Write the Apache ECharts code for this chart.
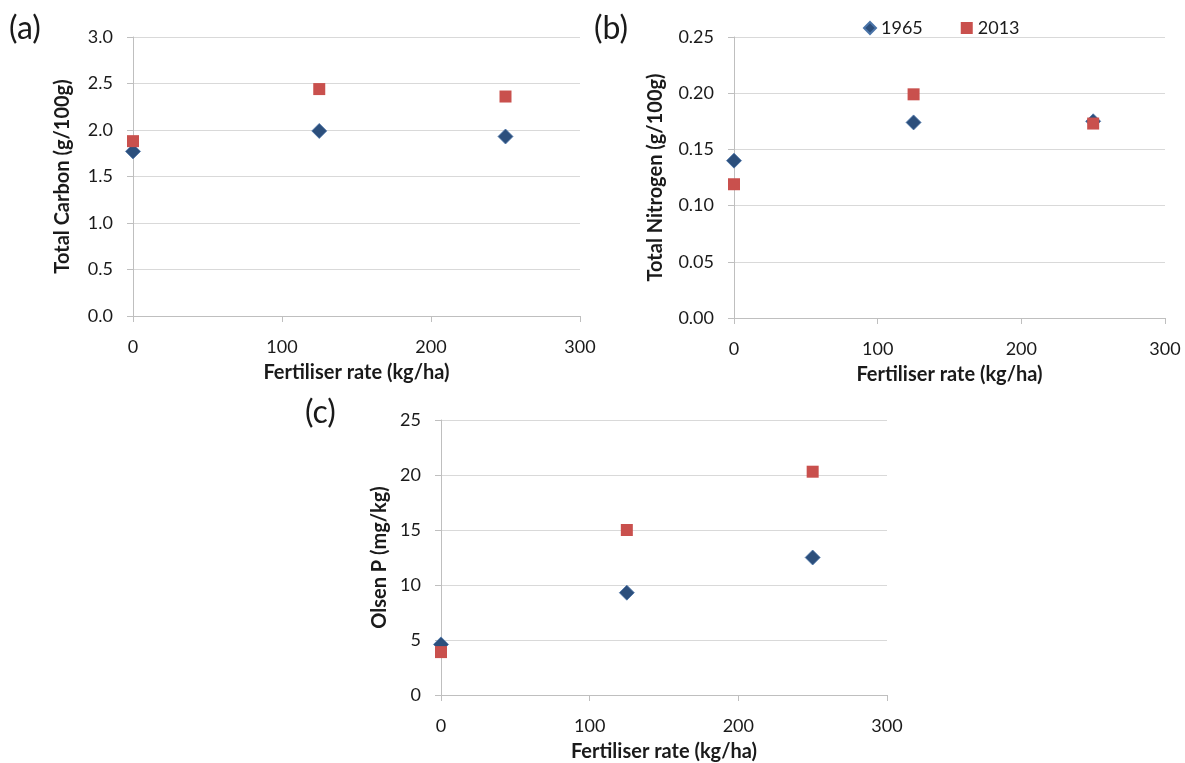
<!DOCTYPE html>
<html>
<head>
<meta charset="utf-8">
<script src="https://cdn.jsdelivr.net/npm/echarts@6/dist/echarts.min.js"></script>
<style>
  html, body { margin: 0; padding: 0; background: #fff; }
  #chart { width: 1185px; height: 763px; }
</style>
</head>
<body>
<div id="chart"></div>
<script>
// fertiliser rates (kg/ha)
const rates = [0, 125, 250]
const years = ['1965', '2013']

// (a) total carbon, g/100g
const carbon1965 = [1.77, 1.99, 1.93]
const carbon2013 = [1.88, 2.44, 2.36]
// (b) total nitrogen, g/100g
const nitrogen1965 = [0.140, 0.174, 0.175]
const nitrogen2013 = [0.119, 0.199, 0.173]
// (c) Olsen P, mg/kg
const olsen1965 = [4.6, 9.3, 12.5]
const olsen2013 = [3.9, 15.0, 20.3]

const panelLabels = ['(a)', '(b)', '(c)']
const yNames = ['Total Carbon (g/100g)', 'Total Nitrogen (g/100g)', 'Olsen P (mg/kg)']
const xName = 'Fertiliser rate (kg/ha)'

const font = 'Lato, "Open Sans", sans-serif'
const textColor = '#1a1a1a'
const blue = '#2c4f7c'
const red = '#c9504d'

const pairs = (ys) => rates.map((x, i) => [x, ys[i]])

const grids = [
  { left: 133, top: 37, width: 447, height: 279 },
  { left: 734, top: 37, width: 431, height: 281 },
  { left: 441, top: 420, width: 446, height: 277 },
]

const yRanges = [
  { max: 3.0, interval: 0.5, digits: 1 },
  { max: 0.25, interval: 0.05, digits: 2 },
  { max: 25, interval: 5, digits: 0 },
]

const xAxes = grids.map((g, i) => ({
  type: 'value',
  gridIndex: i,
  min: 0,
  max: 300,
  interval: 100,
  name: xName,
  nameLocation: 'middle',
  nameGap: 47,
  nameTextStyle: { fontFamily: font, fontWeight: 'bold', fontSize: 20, color: textColor },
  axisLine: { show: true, onZero: false, lineStyle: { color: '#bfbfbf', width: 1 } },
  axisTick: { show: true, length: 6, lineStyle: { color: '#bfbfbf' } },
  axisLabel: { fontFamily: font, fontSize: 18, color: textColor, margin: 22 },
  splitLine: { show: false },
}))

const yAxes = yRanges.map((r, i) => ({
  type: 'value',
  gridIndex: i,
  min: 0,
  max: r.max,
  interval: r.interval,
  name: yNames[i],
  nameLocation: 'middle',
  nameRotate: 90,
  nameGap: i === 2 ? 51 : (i === 1 ? 68 : 60),
  nameTextStyle: { fontFamily: font, fontWeight: 'bold', fontSize: 20, color: textColor },
  axisLine: { show: true, lineStyle: { color: '#bfbfbf', width: 1 } },
  axisTick: { show: true, length: 6, lineStyle: { color: '#bfbfbf' } },
  axisLabel: {
    fontFamily: font, fontSize: 18, color: textColor, margin: 20,
    formatter: (v) => v.toFixed(r.digits),
  },
  splitLine: { show: true, lineStyle: { color: '#d9d9d9', width: 1 } },
}))

const data1965 = [carbon1965, nitrogen1965, olsen1965]
const data2013 = [carbon2013, nitrogen2013, olsen2013]

const series = []
for (let i = 0; i < 3; i++) {
  series.push({
    name: years[0],
    type: 'scatter',
    xAxisIndex: i,
    yAxisIndex: i,
    symbol: 'diamond',
    symbolSize: 15,
    itemStyle: { color: blue, opacity: 1, borderColor: '#4a74a8', borderWidth: 0.8 },
    data: pairs(data1965[i]),
    z: 3,
  })
  series.push({
    name: years[1],
    type: 'scatter',
    xAxisIndex: i,
    yAxisIndex: i,
    symbol: 'rect',
    symbolSize: 12,
    itemStyle: { color: red, opacity: 1 },
    data: pairs(data2013[i]),
    z: 4,
  })
}

const labelPos = [[9, 13], [594, 13], [305, 397]]

const chart = echarts.init(document.getElementById('chart'))
chart.setOption({
  animation: false,
  backgroundColor: '#fff',
  graphic: panelLabels.map((t, i) => ({
    type: 'text',
    left: labelPos[i][0],
    top: labelPos[i][1],
    style: { text: t, fontFamily: font, fontSize: 32, fill: textColor },
  })),
  legend: {
    data: years,
    left: 858,
    top: 14,
    itemWidth: 12,
    itemHeight: 12,
    itemGap: 38,
    textStyle: { fontFamily: font, fontSize: 18, color: textColor },
  },
  grid: grids,
  xAxis: xAxes,
  yAxis: yAxes,
  series,
})
</script>
</body>
</html>
